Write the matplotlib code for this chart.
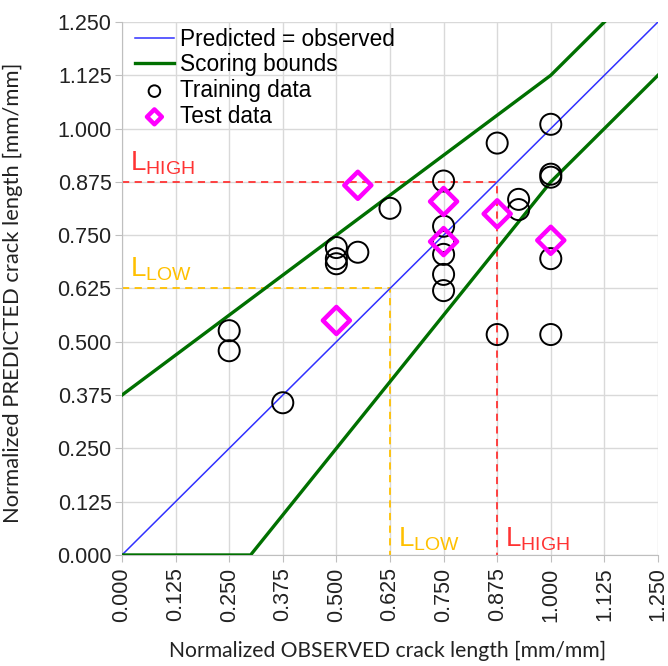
import numpy as np
import matplotlib.pyplot as plt

plt.rcParams['font.family'] = ['Liberation Sans', 'DejaVu Sans']

# training data (observed, predicted)
train_obs = [0.25, 0.25, 0.375, 0.50, 0.50, 0.50, 0.55, 0.625,
             0.75, 0.75, 0.75, 0.75, 0.75, 0.75,
             0.875, 0.875, 0.925, 0.925,
             1.0, 1.0, 1.0, 1.0, 1.0]
train_pred = [0.526, 0.479, 0.357, 0.721, 0.695, 0.683, 0.710, 0.813,
              0.877, 0.771, 0.735, 0.705, 0.658, 0.620,
              0.966, 0.517, 0.834, 0.810,
              1.010, 0.893, 0.886, 0.695, 0.517]

# test data
test_obs = [0.55, 0.50, 0.75, 0.75, 0.875, 1.0]
test_pred = [0.867, 0.550, 0.829, 0.735, 0.800, 0.738]

# scoring bounds
upper_x = [0.0, 1.0, 1.25]
upper_y = [0.375, 1.125, 1.375]
lower_x = [0.0, 0.3, 1.0, 1.25]
lower_y = [0.0, 0.0, 0.875, 1.125]

L_LOW = 0.625
L_HIGH = 0.875

ticks = np.arange(0, 1.26, 0.125)

RED = '#ff3333'
GOLD = '#ffc000'
GREEN = '#007000'

fig = plt.figure(figsize=(6.68, 6.66), dpi=100)
ax = fig.add_axes([0.1826, 0.1667, 0.8024, 0.8003])

ax.plot([0, 1.25], [0, 1.25], color='#3030ff', lw=1.1, label='Predicted = observed', zorder=3)
ax.plot(upper_x, upper_y, color=GREEN, lw=2.4, label='Scoring bounds', zorder=3)
ax.plot(lower_x, lower_y, color=GREEN, lw=2.4, zorder=3)

ax.plot([0, L_HIGH, L_HIGH], [L_HIGH, L_HIGH, 0], color=RED, lw=1.3, ls=(0, (4, 3)), zorder=2)
ax.plot([0, L_LOW, L_LOW], [L_LOW, L_LOW, 0], color=GOLD, lw=1.3, ls=(0, (4, 3)), zorder=2)

ax.scatter(train_obs, train_pred, s=230, facecolors='none', edgecolors='black',
           linewidths=1.4, label='Training data', zorder=4)
ax.scatter(test_obs, test_pred, s=190, marker='D', facecolors='none', edgecolors='#ff00ff',
           linewidths=3.2, label='Test data', zorder=5)

# L labels
ax.text(0.018, L_HIGH + 0.028, r'L$_{\mathregular{HIGH}}$', color=RED, fontsize=20)
ax.text(0.018, L_LOW + 0.028, r'L$_{\mathregular{LOW}}$', color=GOLD, fontsize=20)
ax.text(L_LOW + 0.019, 0.02, r'L$_{\mathregular{LOW}}$', color=GOLD, fontsize=20)
ax.text(L_HIGH + 0.019, 0.02, r'L$_{\mathregular{HIGH}}$', color=RED, fontsize=20)

ax.set_xlim(0, 1.25)
ax.set_ylim(0, 1.25)
ax.set_xticks(ticks)
ax.set_yticks(ticks)
ax.set_xticklabels([f'{t:.3f}' for t in ticks], rotation=90)
ax.set_yticklabels([f'{t:.3f}' for t in ticks])
ax.tick_params(labelsize=15.5, color='#bfbfbf', length=5, direction='out', labelcolor='#222222')
ax.tick_params(axis='y', pad=2.5)
ax.tick_params(axis='x', pad=4)
ax.grid(True, color='#d9d9d9', lw=1)
ax.set_axisbelow(True)
for s in ['top', 'right']:
    ax.spines[s].set_visible(False)
for s in ['left', 'bottom']:
    ax.spines[s].set_color('#bfbfbf')

ax.set_xlabel('Normalized OBSERVED crack length [mm/mm]', fontsize=15.2, family='Lato', color='#222222')
ax.set_ylabel('Normalized PREDICTED crack length [mm/mm]', fontsize=15.8, family='Lato', color='#222222')
ax.xaxis.set_label_coords(0.496, -0.161)
ax.yaxis.set_label_coords(-0.185, 0.4925)

leg = ax.legend(loc='upper left', bbox_to_anchor=(0.013, 1.0), fontsize=16.3, frameon=False,
                borderpad=0.25, handlelength=1.75, handletextpad=0.25,
                labelspacing=0.12, borderaxespad=0.0, markerscale=0.55)
leg.set_zorder(6)

fig.savefig('out.png', dpi=100)
